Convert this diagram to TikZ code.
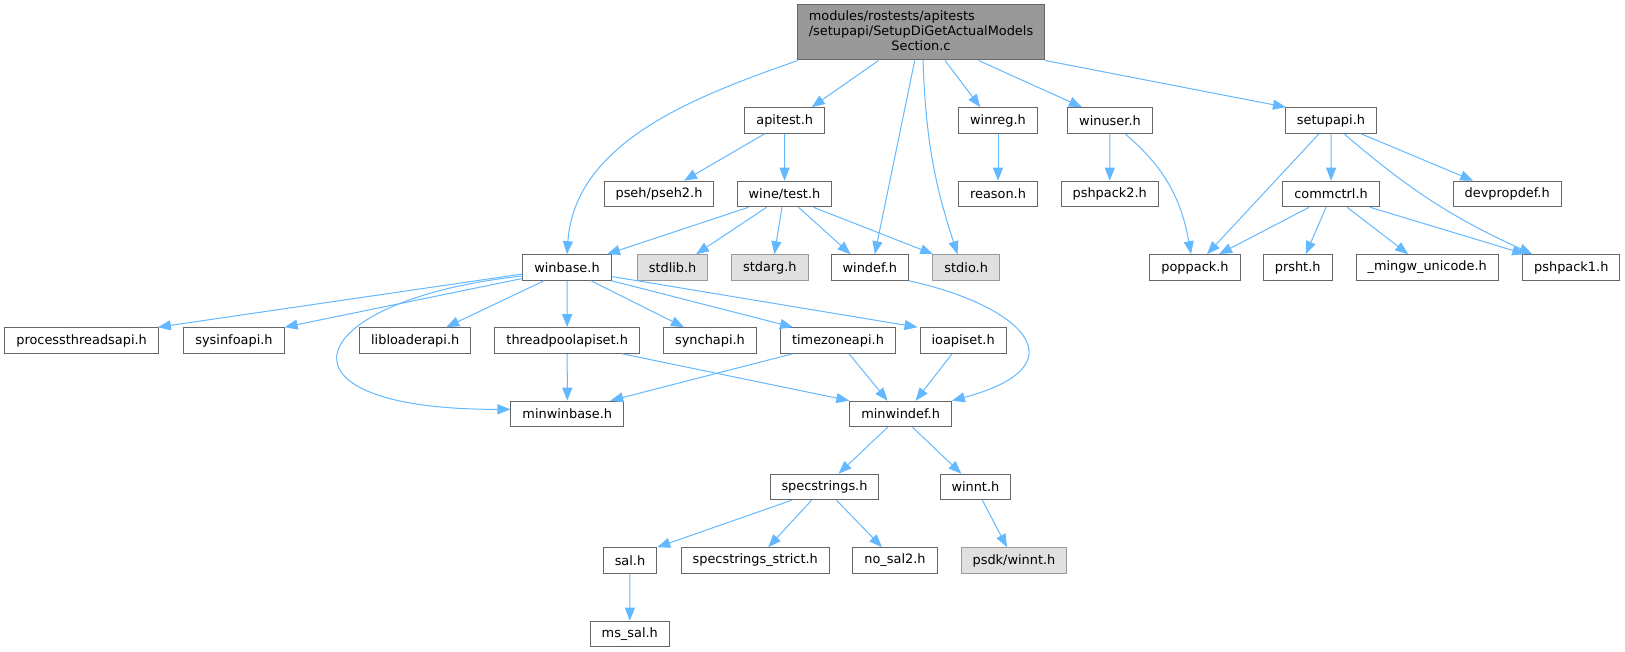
\documentclass[tikz,border=0pt]{standalone}
\usepackage{fontspec}
\setmainfont{DejaVu Sans}
\usetikzlibrary{arrows.meta}
\definecolor{grey40}{HTML}{666666}
\definecolor{grey60}{HTML}{999999}
\definecolor{grey88}{HTML}{E0E0E0}
\definecolor{edgeblue}{HTML}{63B8FF}
\tikzset{
  file/.style={draw=grey40, fill=white, line width=1pt, minimum height=25.6pt,
    inner xsep=11.5pt, inner ysep=0pt, font=\fontsize{12.9}{15}\selectfont},
  sysfile/.style={file, draw=grey60, fill=grey88},
  rootfile/.style={file, fill=grey60, minimum height=55pt},
  dep/.style={edgeblue, line width=1pt, -{Triangle[length=13pt,width=10pt]}}
}

\begin{document}
\begin{tikzpicture}[x=1pt, y=-1pt]
	\useasboundingbox (0,0) rectangle (1625,652);
	\node[rootfile] (root) at (921,32.5) {\begin{tabular}{@{}l@{}}modules/rostests/apitests\\/setupapi/SetupDiGetActualModels\\\multicolumn{1}{@{}c@{}}{Section.c}\end{tabular}};

	\node[file] (apitest) at (784.7,120.5) {apitest.h};
	\node[file] (winreg) at (998,120.5) {winreg.h};
	\node[file] (winuser) at (1110,120.5) {winuser.h};
	\node[file] (setupapi) at (1331,120.5) {setupapi.h};

	\node[file] (pseh) at (659,194) {pseh/pseh2.h};
	\node[file] (winetest) at (784.5,194) {wine/test.h};
	\node[file] (reason) at (998,194) {reason.h};
	\node[file] (pshpacktwo) at (1109.7,194) {pshpack2.h};
	\node[file] (commctrl) at (1331.1,194) {commctrl.h};
	\node[file] (devpropdef) at (1507.2,194) {devpropdef.h};

	\node[file] (winbase) at (567,267.5) {winbase.h};
	\node[sysfile] (stdlib) at (672.6,267.5) {stdlib.h};
	\node[sysfile] (stdarg) at (769.8,267.5) {stdarg.h};
	\node[file] (windef) at (869.8,267.5) {windef.h};
	\node[sysfile] (stdio) at (966.2,267.5) {stdio.h};
	\node[file] (poppack) at (1195,267.5) {poppack.h};
	\node[file] (prsht) at (1297.7,267.5) {prsht.h};
	\node[file] (mingwunicode) at (1427.2,267.5) {\_mingw\_unicode.h};
	\node[file] (pshpackone) at (1571.3,267.5) {pshpack1.h};

	\node[file] (procthread) at (81.6,340.5) {processthreadsapi.h};
	\node[file] (sysinfo) at (234,340.5) {sysinfoapi.h};
	\node[file] (libloader) at (415.2,340.5) {libloaderapi.h};
	\node[file] (threadpool) at (567.2,340.5) {threadpoolapiset.h};
	\node[file] (synchapi) at (710,340.5) {synchapi.h};
	\node[file] (timezone) at (838,340.5) {timezoneapi.h};
	\node[file] (ioapiset) at (963.1,340.5) {ioapiset.h};

	\node[file] (minwinbase) at (567.3,414) {minwinbase.h};
	\node[file] (minwindef) at (900.6,414) {minwindef.h};

	\node[file] (specstrings) at (824.5,487) {specstrings.h};
	\node[file] (winnt) at (975.4,487) {winnt.h};

	\node[file] (sal) at (630,560.5) {sal.h};
	\node[file] (strict) at (755.2,560.5) {specstrings\_strict.h};
	\node[file] (nosaltwo) at (895,560.5) {no\_sal2.h};
	\node[sysfile] (psdkwinnt) at (1014,560.5) {psdk/winnt.h};

	\node[file] (mssal) at (629.8,634) {ms\_sal.h};

	\draw [dep] ([xshift=1pt]root.south west) .. controls (700,95) and (575,140) .. (winbase.north);
	\draw [dep] ([xshift=-42.5pt]root.south) -- ([xshift=27pt]apitest.north);
	\draw [dep] ([xshift=-6.3pt]root.south) -- ([xshift=5pt]windef.north);
	\draw [dep] ([xshift=2pt]root.south) to[bend right=8] ([xshift=-8.7pt]stdio.north);
	\draw [dep] ([xshift=24pt]root.south) -- ([xshift=-17.7pt]winreg.north);
	\draw [dep] ([xshift=57.5pt]root.south) -- ([xshift=-28pt]winuser.north);
	\draw [dep] (root.south east) -- ([xshift=1pt]setupapi.north west);

	\draw [dep] ([xshift=-20pt]apitest.south) -- ([xshift=25pt]pseh.north);
	\draw [dep] (apitest) -- (winetest);

	\draw [dep] ([xshift=-36pt]winetest.south) -- ([xshift=40pt]winbase.north);
	\draw [dep] ([xshift=-18pt]winetest.south) -- ([xshift=23.4pt]stdlib.north);
	\draw [dep] ([xshift=-2.5pt]winetest.south) -- ([xshift=4.5pt]stdarg.north);
	\draw [dep] ([xshift=14pt]winetest.south) -- ([xshift=-19.3pt]windef.north);
	\draw [dep] ([xshift=29pt]winetest.south) -- ([xshift=-33pt]stdio.north);

	\draw [dep] (winreg) -- (reason);
	\draw [dep] (winuser) -- (pshpacktwo);
	\draw [dep] ([xshift=15pt]winuser.south) to[out=-40,in=100] ([xshift=-4pt]poppack.north);

	\draw [dep] ([xshift=-12pt]setupapi.south) -- ([xshift=12pt]poppack.north);
	\draw [dep] (setupapi) -- (commctrl);
	\draw [dep] ([xshift=13pt]setupapi.south) to[bend right=8] ([xshift=-39pt]pshpackone.north);
	\draw [dep] ([xshift=30pt]setupapi.south) -- ([xshift=-34pt]devpropdef.north);

	\draw [dep] ([xshift=-22pt]commctrl.south) -- ([xshift=24pt]poppack.north);
	\draw [dep] ([xshift=-5pt]commctrl.south) -- ([xshift=8pt]prsht.north);
	\draw [dep] ([xshift=16pt]commctrl.south) -- ([xshift=-19pt]mingwunicode.north);
	\draw [dep] ([xshift=39pt]commctrl.south) -- ([xshift=-46pt]pshpackone.north);

	\draw [dep] ([yshift=-6.5pt]winbase.west) -- ([xshift=-1pt]procthread.north east);
	\draw [dep] ([yshift=-11pt]winbase.west) -- (sysinfo.north east);
	\draw [dep] ([yshift=-8.5pt]winbase.west) .. controls (300,300) and (260,410) .. ([yshift=4.7pt]minwinbase.west);
	\draw [dep] ([xshift=-23pt]winbase.south) -- ([xshift=31pt]libloader.north);
	\draw [dep] (winbase) -- (threadpool);
	\draw [dep] ([xshift=24pt]winbase.south) -- ([xshift=-26pt]synchapi.north);
	\draw [dep] (winbase.south east) -- ([xshift=-45pt]timezone.north);
	\draw [dep] ([yshift=-9pt]winbase.east) -- ([xshift=-2pt]ioapiset.north west);

	\draw [dep] (windef.south east) .. controls (1020,305) and (1085,365) .. (minwindef.north east);

	\draw [dep] (threadpool) -- (minwinbase);
	\draw [dep] ([xshift=55pt]threadpool.south) -- (minwindef.north west);
	\draw [dep] ([xshift=-45.4pt]timezone.south) -- ([xshift=43pt]minwinbase.north);
	\draw [dep] ([xshift=11pt]timezone.south) -- ([xshift=-13pt]minwindef.north);
	\draw [dep] ([xshift=-11pt]ioapiset.south) -- ([xshift=15pt]minwindef.north);

	\draw [dep] ([xshift=-13pt]minwindef.south) -- ([xshift=14pt]specstrings.north);
	\draw [dep] ([xshift=12pt]minwindef.south) -- ([xshift=-14pt]winnt.north);

	\draw [dep] ([xshift=-33pt]specstrings.south) -- (sal.north east);
	\draw [dep] ([xshift=-13pt]specstrings.south) -- ([xshift=13pt]strict.north);
	\draw [dep] ([xshift=12pt]specstrings.south) -- ([xshift=-13pt]nosaltwo.north);
	\draw [dep] ([xshift=7pt]winnt.south) -- ([xshift=-7pt]psdkwinnt.north);

	\draw [dep] (sal) -- (mssal);
\end{tikzpicture}
\end{document}
